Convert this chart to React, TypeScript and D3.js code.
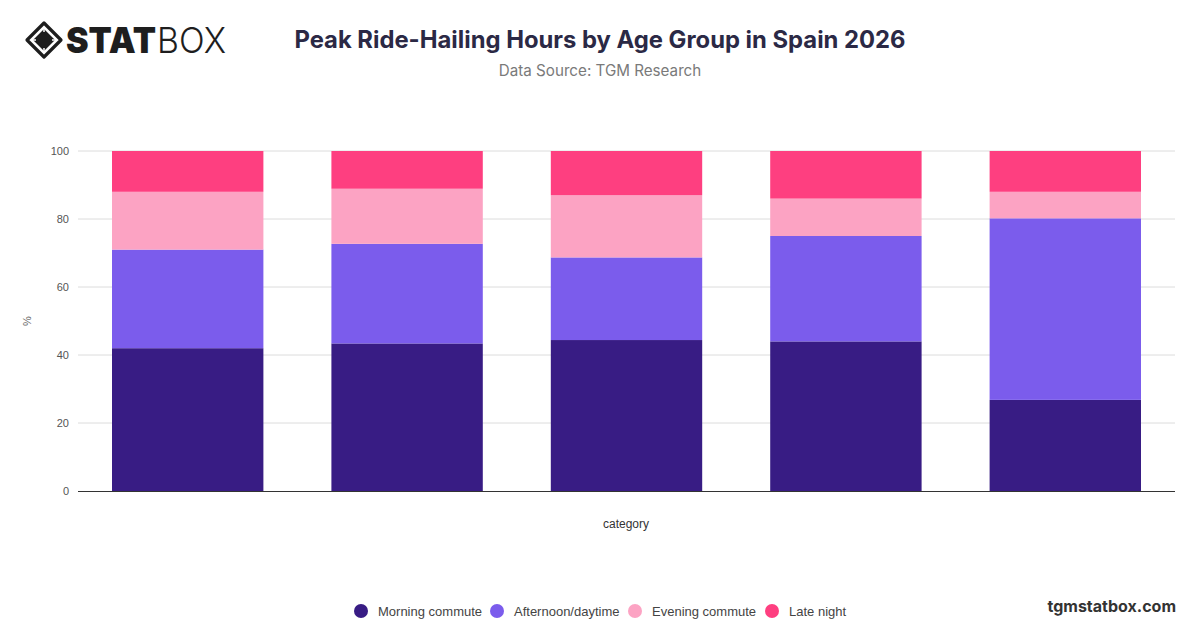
import React from "react";
import * as d3 from "d3";

const categories = ["18-24", "25-34", "35-44", "45-54", "55+"];
const seriesNames = ["Morning commute", "Afternoon/daytime", "Evening commute", "Late night"];
const morning = [42.0, 43.4, 44.4, 44.0, 26.8];
const afternoon = [29.0, 29.3, 24.3, 31.0, 53.4];
const evening = [17.0, 16.2, 18.3, 11.0, 7.8];
const lateNight = [12.0, 11.1, 13.0, 14.0, 12.0];
const colors = ["#381c84", "#7b5cec", "#fca3c3", "#fe3f80"];
const yTicks = [0, 20, 40, 60, 80, 100];

const W = 1200;
const H = 628;
const left = 78;
const right = 1175;
const top = 151;
const bottom = 491;
const sans = "'Liberation Sans', Arial, Helvetica, sans-serif";

export default function App() {
  const rows = categories.map((c, i) => ({
    category: c,
    [seriesNames[0]]: morning[i],
    [seriesNames[1]]: afternoon[i],
    [seriesNames[2]]: evening[i],
    [seriesNames[3]]: lateNight[i],
  }));
  const stack = d3.stack<any>().keys(seriesNames)(rows);
  const x = d3.scaleBand().domain(categories).range([left, right]).paddingInner(0.31).paddingOuter(0.155);
  const y = d3.scaleLinear().domain([0, 100]).range([bottom, top]);

  const legendX = [361, 497, 635, 772];

  return (
    <svg width={W} height={H} style={{ position: "absolute", left: 0, top: 0, background: "#fff" }} fontFamily="Inter, 'Noto Sans', sans-serif">
      {/* logo */}
      <g>
        <path d="M44,23 L61,40 L44,57 L27,40 Z" fill="none" stroke="#1e1e1e" strokeWidth={3.2} strokeLinejoin="round" />
        <path d="M44,29 L55,40 L44,51 L33,40 Z" fill="#1e1e1e" />
        <path d="M33,40 L36,40 M52,40 L55,40 M44,29 L44,32 M44,48 L44,51" stroke="#fff" strokeWidth={1.5} />
        <text x={66} y={53} fontSize={36} fontWeight={900} fill="#1e1e1e" textLength={90} lengthAdjust="spacingAndGlyphs" fontFamily="Inter, sans-serif">STAT</text>
        <text x={157} y={53} fontSize={36} fontWeight={300} fill="#1e1e1e" textLength={69} lengthAdjust="spacingAndGlyphs" fontFamily="Inter, sans-serif">BOX</text>
      </g>
      <text x={600} y={48} textAnchor="middle" fontSize={23.8} fontWeight={700} fill="#2b2945">Peak Ride-Hailing Hours by Age Group in Spain 2026</text>
      <text x={600} y={76} textAnchor="middle" fontSize={15.2} fill="#7a7a7a">Data Source: TGM Research</text>

      {/* grid */}
      {yTicks.map((t) => (
        <g key={t}>
          {t !== 0 && <line x1={left} x2={right} y1={y(t)} y2={y(t)} stroke="#dcdcdc" strokeWidth={1} />}
          <text x={69} y={y(t) + 4} textAnchor="end" fontSize={11} fill="#555" fontFamily={sans}>{t}</text>
        </g>
      ))}
      <text transform={`translate(31,${(top + bottom) / 2}) rotate(-90)`} textAnchor="middle" fontSize={11} fill="#666" fontFamily={sans}>%</text>

      {/* bars */}
      {stack.map((s, si) => (
        <g key={s.key} fill={colors[si]}>
          {s.map((d, i) => (
            <rect key={i} x={x(categories[i])} width={x.bandwidth()} y={y(d[1])} height={y(d[0]) - y(d[1])} />
          ))}
        </g>
      ))}
      <line x1={left} x2={right} y1={y(0) + 0.5} y2={y(0) + 0.5} stroke="#333" strokeWidth={1} />
      <text x={626} y={528} textAnchor="middle" fontSize={12} fill="#333" fontFamily={sans}>category</text>

      {/* legend */}
      {seriesNames.map((n, i) => (
        <g key={n}>
          <circle cx={legendX[i]} cy={611} r={7} fill={colors[i]} />
          <text x={legendX[i] + 17} y={615.5} fontSize={13} fill="#444" fontFamily={sans}>{n}</text>
        </g>
      ))}
      <text x={1176} y={612} textAnchor="end" fontSize={16} fontWeight={700} fill="#333">tgmstatbox.com</text>
    </svg>
  );
}
